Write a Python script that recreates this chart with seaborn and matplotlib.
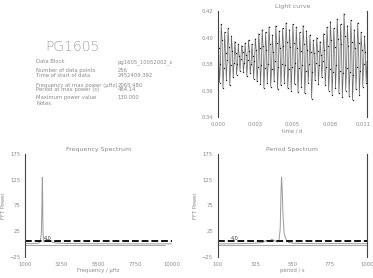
import numpy as np
import pandas as pd
import matplotlib
matplotlib.use("Agg")
import matplotlib.pyplot as plt
import matplotlib.transforms as mtransforms
import seaborn as sns

# ---------------- data ----------------
star_name = "PG1605"
info_labels = ["Data Block", "Number of data points", "Time of start of data",
               "Frequency at max power (\u00b5Hz)", "Period at max power (s)",
               "Maximum power value", "Notes"]
info_values = ["pg1605_10052002_s", "256", "2452409.392",
               "2065.480", "484.14", "130.000", ""]

lc_flux = [
    0.405, 0.392, 0.366, 0.380, 0.410, 0.398, 0.362, 0.377,
    0.404, 0.388, 0.368, 0.383, 0.407, 0.393, 0.364, 0.379,
    0.401, 0.390, 0.370, 0.381, 0.397, 0.388, 0.372, 0.380,
    0.395, 0.386, 0.375, 0.384, 0.394, 0.389, 0.374, 0.381,
    0.396, 0.387, 0.371, 0.383, 0.398, 0.390, 0.373, 0.380,
    0.395, 0.386, 0.369, 0.382, 0.399, 0.391, 0.367, 0.378,
    0.403, 0.392, 0.365, 0.379, 0.406, 0.394, 0.362, 0.377,
    0.404, 0.391, 0.366, 0.380, 0.408, 0.395, 0.363, 0.376,
    0.402, 0.389, 0.367, 0.382, 0.409, 0.396, 0.361, 0.378,
    0.405, 0.392, 0.364, 0.380, 0.407, 0.394, 0.366, 0.379,
    0.411, 0.397, 0.362, 0.376, 0.406, 0.393, 0.360, 0.378,
    0.410, 0.396, 0.365, 0.381, 0.408, 0.392, 0.359, 0.377,
    0.404, 0.390, 0.363, 0.379, 0.409, 0.395, 0.358, 0.375,
    0.405, 0.391, 0.366, 0.380, 0.402, 0.389, 0.354, 0.374,
    0.398, 0.388, 0.368, 0.381, 0.400, 0.390, 0.365, 0.379,
    0.397, 0.387, 0.370, 0.382, 0.403, 0.391, 0.364, 0.378,
    0.408, 0.394, 0.360, 0.376, 0.412, 0.398, 0.357, 0.374,
    0.407, 0.393, 0.362, 0.379, 0.414, 0.399, 0.358, 0.375,
    0.410, 0.395, 0.355, 0.373, 0.418, 0.401, 0.360, 0.377,
    0.409, 0.394, 0.356, 0.374, 0.413, 0.397, 0.353, 0.372,
    0.406, 0.392, 0.361, 0.378, 0.411, 0.396, 0.357, 0.375,
    0.404, 0.391, 0.363, 0.380, 0.401, 0.389, 0.366, 0.382,
]
lc_tmax = 0.011

freq = [1000, 1200, 1400, 1600, 1800, 1900, 1950, 2000, 2030, 2050, 2065,
        2080, 2100, 2130, 2170, 2250, 2350, 2450, 2550, 2700, 2900, 3200,
        3600, 4000, 4500, 5000, 5500, 6000, 6500, 7000, 7500, 8000, 8500,
        9000, 9500, 10000]
power = [0.5, 0.8, 0.6, 1.0, 1.5, 3.0, 8.0, 20.0, 60.0, 110.0, 130.0,
         95.0, 30.0, 8.0, 4.0, 6.0, 9.0, 5.0, 7.0, 3.0, 2.0, 1.5,
         1.0, 0.8, 0.7, 0.6, 0.5, 0.5, 0.4, 0.4, 0.4, 0.3, 0.3,
         0.3, 0.3, 0.3]
threshold = 5.0
threshold_label = "4.0"

spec_yticks = [-25, 25, 75, 125, 175]
freq_xticks = [1000, 3250, 5500, 7750, 10000]
per_xticks = [100, 325, 550, 775, 1000]
lc_yticks = [0.34, 0.36, 0.38, 0.40, 0.42]
lc_xticks = [0.0, 0.00275, 0.0055, 0.00825, 0.011]
lc_xticklabels = ["0.000", "0.003", "0.005", "0.008", "0.011"]

# ---------------- frames ----------------
lc_df = pd.DataFrame({"time": np.linspace(0, lc_tmax, len(lc_flux)), "flux": lc_flux})
fs_df = pd.DataFrame({"freq": freq, "power": power})
ps_df = pd.DataFrame({"period": 1e6 / np.array(freq, dtype=float), "power": power})

sns.set_style("white")
plt.rcParams["font.family"] = ["DejaVu Sans"]
TXT = "#8a8a8a"

fig = plt.figure(figsize=(3.73, 2.78), dpi=100)

def style(ax, hide_right=False):
    for s in ["top", "bottom"]:
        ax.spines[s].set_visible(False)
    ax.spines["left"].set_color("#444")
    ax.spines["right"].set_color("#444")
    ax.spines["left"].set_linewidth(0.8)
    ax.spines["right"].set_linewidth(0.8)
    if hide_right:
        ax.spines["right"].set_visible(False)
    ax.tick_params(labelsize=3.8, colors=TXT, length=1.5, width=0.4, pad=2)

# text panel
fig.text(0.195, 0.83, star_name, fontsize=10, color="#a0a0a0",
         ha="center", va="center", fontweight="light")
ys = [0.777, 0.748, 0.727, 0.694, 0.679, 0.651, 0.626]
for lab, val, y in zip(info_labels, info_values, ys):
    fig.text(0.097, y, lab, fontsize=3.8, color=TXT, va="center")
    fig.text(0.316, y, val, fontsize=3.8, color=TXT, va="center")

# light curve
ax1 = fig.add_axes([0.584, 0.579, 0.400, 0.381])
sns.lineplot(data=lc_df, x="time", y="flux", ax=ax1, color="#6a6a6a", lw=0.55,
             marker="o", markersize=1.0, markeredgewidth=0, markerfacecolor="#222")
ax1.set_xlim(0, lc_tmax)
ax1.set_ylim(0.34, 0.42)
ax1.set_yticks(lc_yticks)
ax1.set_yticklabels([f"{v:.2f}" for v in lc_yticks])
ax1.set_xticks(lc_xticks)
ax1.set_xticklabels(lc_xticklabels)
ax1.set_xlabel("time / d", fontsize=3.8, color=TXT, labelpad=1)
ax1.set_ylabel("")
ax1.set_title("Light curve", fontsize=4.5, color=TXT, pad=2)
style(ax1)
last = ax1.get_xticklabels()[-1]
last.set_transform(last.get_transform() +
                   mtransforms.ScaledTranslation(-4 / 100, 0, fig.dpi_scale_trans))

# frequency spectrum
ax2 = fig.add_axes([0.067, 0.076, 0.394, 0.370])
sns.lineplot(data=fs_df, x="freq", y="power", ax=ax2, color="#9a9a9a", lw=0.7)
ax2.axhline(threshold, color="#111", lw=1.4, ls=(0, (3.5, 1.5)))
ax2.axhline(-2, color="#9a9a9a", lw=0.6, xmin=0, xmax=0.955)
ax2.text(2150, threshold + 2, threshold_label, fontsize=3.5, color="#333")
ax2.set_xlim(1000, 10000)
ax2.set_ylim(-25, 175)
ax2.set_yticks(spec_yticks)
ax2.set_xticks(freq_xticks)
ax2.set_xlabel("Frequency / \u00b5Hz", fontsize=3.8, color=TXT, labelpad=1)
ax2.set_ylabel("FFT Power", fontsize=3.8, color=TXT)
ax2.yaxis.set_label_coords(-0.13, 0.5)
ax2.set_title("Frequency Spectrum", fontsize=4.5, color=TXT, pad=2)
style(ax2, hide_right=True)

# period spectrum
ax3 = fig.add_axes([0.584, 0.076, 0.400, 0.370])
sns.lineplot(data=ps_df, x="period", y="power", ax=ax3, color="#9a9a9a", lw=0.7,
             sort=True)
ax3.axhline(threshold, color="#111", lw=1.4, ls=(0, (3.5, 1.5)))
ax3.axhline(-2, color="#9a9a9a", lw=0.6)
ax3.text(180, threshold + 2, threshold_label, fontsize=3.5, color="#333")
ax3.set_xlim(100, 1000)
ax3.set_ylim(-25, 175)
ax3.set_yticks(spec_yticks)
ax3.set_xticks(per_xticks)
ax3.set_xlabel("period / s", fontsize=3.8, color=TXT, labelpad=1)
ax3.set_ylabel("FFT Power", fontsize=3.8, color=TXT)
ax3.yaxis.set_label_coords(-0.13, 0.5)
ax3.set_title("Period Spectrum", fontsize=4.5, color=TXT, pad=2)
style(ax3)

fig.savefig("out.png", dpi=100)
